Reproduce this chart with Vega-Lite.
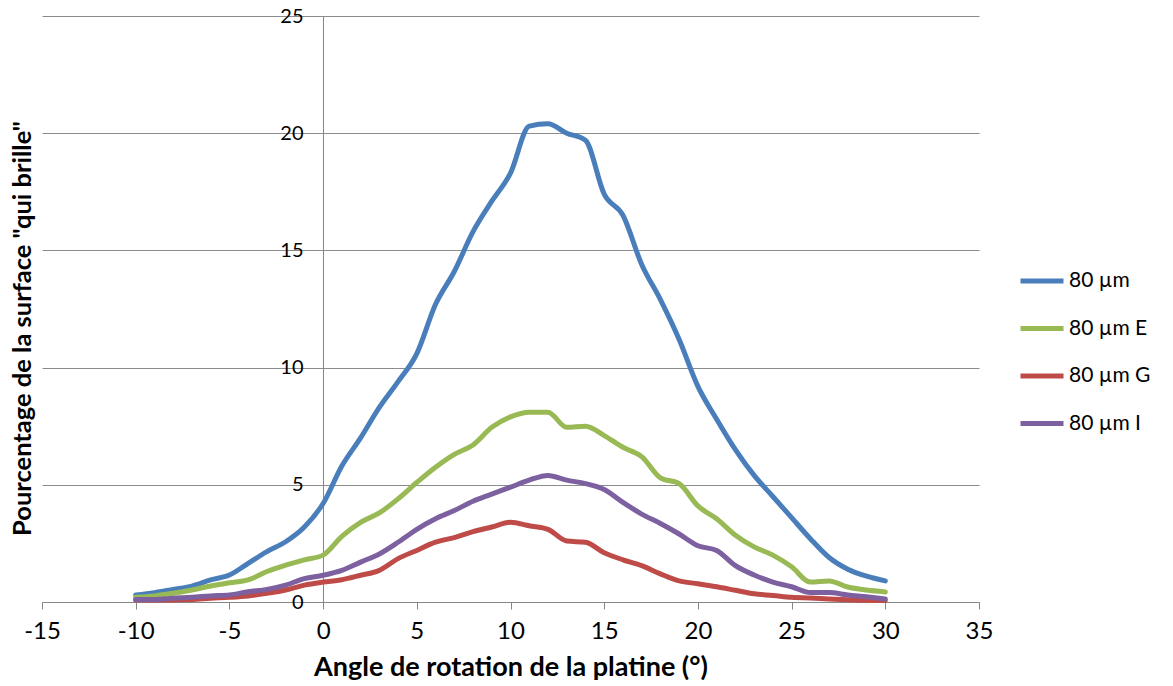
{
  "$schema": "https://vega.github.io/schema/vega-lite/v6.json",
  "width": 937,
  "height": 586,
  "autosize": {"type": "none"},
  "padding": {"left": 42, "top": 16, "right": 194, "bottom": 84},
  "background": "white",
  "config": {"view": {"stroke": null}},
  "data": {"values": [
    {"angle": -10, "value": 0.3, "series": "80 µm"},
    {"angle": -9, "value": 0.4, "series": "80 µm"},
    {"angle": -8, "value": 0.54, "series": "80 µm"},
    {"angle": -7, "value": 0.68, "series": "80 µm"},
    {"angle": -6, "value": 0.94, "series": "80 µm"},
    {"angle": -5, "value": 1.15, "series": "80 µm"},
    {"angle": -4, "value": 1.65, "series": "80 µm"},
    {"angle": -3, "value": 2.15, "series": "80 µm"},
    {"angle": -2, "value": 2.57, "series": "80 µm"},
    {"angle": -1, "value": 3.2, "series": "80 µm"},
    {"angle": 0, "value": 4.2, "series": "80 µm"},
    {"angle": 1, "value": 5.8, "series": "80 µm"},
    {"angle": 2, "value": 7.0, "series": "80 µm"},
    {"angle": 3, "value": 8.3, "series": "80 µm"},
    {"angle": 4, "value": 9.4, "series": "80 µm"},
    {"angle": 5, "value": 10.6, "series": "80 µm"},
    {"angle": 6, "value": 12.7, "series": "80 µm"},
    {"angle": 7, "value": 14.1, "series": "80 µm"},
    {"angle": 8, "value": 15.8, "series": "80 µm"},
    {"angle": 9, "value": 17.1, "series": "80 µm"},
    {"angle": 10, "value": 18.3, "series": "80 µm"},
    {"angle": 11, "value": 20.3, "series": "80 µm"},
    {"angle": 12, "value": 20.4, "series": "80 µm"},
    {"angle": 13, "value": 20.0, "series": "80 µm"},
    {"angle": 14, "value": 19.7, "series": "80 µm"},
    {"angle": 15, "value": 17.4, "series": "80 µm"},
    {"angle": 16, "value": 16.5, "series": "80 µm"},
    {"angle": 17, "value": 14.4, "series": "80 µm"},
    {"angle": 18, "value": 12.9, "series": "80 µm"},
    {"angle": 19, "value": 11.2, "series": "80 µm"},
    {"angle": 20, "value": 9.2, "series": "80 µm"},
    {"angle": 21, "value": 7.8, "series": "80 µm"},
    {"angle": 22, "value": 6.5, "series": "80 µm"},
    {"angle": 23, "value": 5.4, "series": "80 µm"},
    {"angle": 24, "value": 4.5, "series": "80 µm"},
    {"angle": 25, "value": 3.6, "series": "80 µm"},
    {"angle": 26, "value": 2.7, "series": "80 µm"},
    {"angle": 27, "value": 1.9, "series": "80 µm"},
    {"angle": 28, "value": 1.4, "series": "80 µm"},
    {"angle": 29, "value": 1.1, "series": "80 µm"},
    {"angle": 30, "value": 0.9, "series": "80 µm"},

    {"angle": -10, "value": 0.2, "series": "80 µm E"},
    {"angle": -9, "value": 0.26, "series": "80 µm E"},
    {"angle": -8, "value": 0.37, "series": "80 µm E"},
    {"angle": -7, "value": 0.51, "series": "80 µm E"},
    {"angle": -6, "value": 0.68, "series": "80 µm E"},
    {"angle": -5, "value": 0.82, "series": "80 µm E"},
    {"angle": -4, "value": 0.94, "series": "80 µm E"},
    {"angle": -3, "value": 1.3, "series": "80 µm E"},
    {"angle": -2, "value": 1.57, "series": "80 µm E"},
    {"angle": -1, "value": 1.8, "series": "80 µm E"},
    {"angle": 0, "value": 2.0, "series": "80 µm E"},
    {"angle": 1, "value": 2.8, "series": "80 µm E"},
    {"angle": 2, "value": 3.4, "series": "80 µm E"},
    {"angle": 3, "value": 3.8, "series": "80 µm E"},
    {"angle": 4, "value": 4.4, "series": "80 µm E"},
    {"angle": 5, "value": 5.1, "series": "80 µm E"},
    {"angle": 6, "value": 5.75, "series": "80 µm E"},
    {"angle": 7, "value": 6.3, "series": "80 µm E"},
    {"angle": 8, "value": 6.7, "series": "80 µm E"},
    {"angle": 9, "value": 7.45, "series": "80 µm E"},
    {"angle": 10, "value": 7.9, "series": "80 µm E"},
    {"angle": 11, "value": 8.1, "series": "80 µm E"},
    {"angle": 12, "value": 8.1, "series": "80 µm E"},
    {"angle": 13, "value": 7.45, "series": "80 µm E"},
    {"angle": 14, "value": 7.5, "series": "80 µm E"},
    {"angle": 15, "value": 7.1, "series": "80 µm E"},
    {"angle": 16, "value": 6.6, "series": "80 µm E"},
    {"angle": 17, "value": 6.2, "series": "80 µm E"},
    {"angle": 18, "value": 5.3, "series": "80 µm E"},
    {"angle": 19, "value": 5.05, "series": "80 µm E"},
    {"angle": 20, "value": 4.1, "series": "80 µm E"},
    {"angle": 21, "value": 3.55, "series": "80 µm E"},
    {"angle": 22, "value": 2.85, "series": "80 µm E"},
    {"angle": 23, "value": 2.35, "series": "80 µm E"},
    {"angle": 24, "value": 2.0, "series": "80 µm E"},
    {"angle": 25, "value": 1.5, "series": "80 µm E"},
    {"angle": 26, "value": 0.85, "series": "80 µm E"},
    {"angle": 27, "value": 0.9, "series": "80 µm E"},
    {"angle": 28, "value": 0.64, "series": "80 µm E"},
    {"angle": 29, "value": 0.51, "series": "80 µm E"},
    {"angle": 30, "value": 0.43, "series": "80 µm E"},

    {"angle": -10, "value": 0.09, "series": "80 µm G"},
    {"angle": -9, "value": 0.09, "series": "80 µm G"},
    {"angle": -8, "value": 0.09, "series": "80 µm G"},
    {"angle": -7, "value": 0.11, "series": "80 µm G"},
    {"angle": -6, "value": 0.16, "series": "80 µm G"},
    {"angle": -5, "value": 0.2, "series": "80 µm G"},
    {"angle": -4, "value": 0.26, "series": "80 µm G"},
    {"angle": -3, "value": 0.37, "series": "80 µm G"},
    {"angle": -2, "value": 0.51, "series": "80 µm G"},
    {"angle": -1, "value": 0.72, "series": "80 µm G"},
    {"angle": 0, "value": 0.85, "series": "80 µm G"},
    {"angle": 1, "value": 0.95, "series": "80 µm G"},
    {"angle": 2, "value": 1.14, "series": "80 µm G"},
    {"angle": 3, "value": 1.35, "series": "80 µm G"},
    {"angle": 4, "value": 1.85, "series": "80 µm G"},
    {"angle": 5, "value": 2.2, "series": "80 µm G"},
    {"angle": 6, "value": 2.55, "series": "80 µm G"},
    {"angle": 7, "value": 2.75, "series": "80 µm G"},
    {"angle": 8, "value": 3.0, "series": "80 µm G"},
    {"angle": 9, "value": 3.2, "series": "80 µm G"},
    {"angle": 10, "value": 3.4, "series": "80 µm G"},
    {"angle": 11, "value": 3.25, "series": "80 µm G"},
    {"angle": 12, "value": 3.1, "series": "80 µm G"},
    {"angle": 13, "value": 2.6, "series": "80 µm G"},
    {"angle": 14, "value": 2.55, "series": "80 µm G"},
    {"angle": 15, "value": 2.1, "series": "80 µm G"},
    {"angle": 16, "value": 1.8, "series": "80 µm G"},
    {"angle": 17, "value": 1.55, "series": "80 µm G"},
    {"angle": 18, "value": 1.2, "series": "80 µm G"},
    {"angle": 19, "value": 0.9, "series": "80 µm G"},
    {"angle": 20, "value": 0.78, "series": "80 µm G"},
    {"angle": 21, "value": 0.65, "series": "80 µm G"},
    {"angle": 22, "value": 0.5, "series": "80 µm G"},
    {"angle": 23, "value": 0.35, "series": "80 µm G"},
    {"angle": 24, "value": 0.28, "series": "80 µm G"},
    {"angle": 25, "value": 0.2, "series": "80 µm G"},
    {"angle": 26, "value": 0.17, "series": "80 µm G"},
    {"angle": 27, "value": 0.13, "series": "80 µm G"},
    {"angle": 28, "value": 0.1, "series": "80 µm G"},
    {"angle": 29, "value": 0.07, "series": "80 µm G"},
    {"angle": 30, "value": 0.06, "series": "80 µm G"},

    {"angle": -10, "value": 0.11, "series": "80 µm I"},
    {"angle": -9, "value": 0.11, "series": "80 µm I"},
    {"angle": -8, "value": 0.16, "series": "80 µm I"},
    {"angle": -7, "value": 0.2, "series": "80 µm I"},
    {"angle": -6, "value": 0.26, "series": "80 µm I"},
    {"angle": -5, "value": 0.3, "series": "80 µm I"},
    {"angle": -4, "value": 0.44, "series": "80 µm I"},
    {"angle": -3, "value": 0.54, "series": "80 µm I"},
    {"angle": -2, "value": 0.72, "series": "80 µm I"},
    {"angle": -1, "value": 1.0, "series": "80 µm I"},
    {"angle": 0, "value": 1.14, "series": "80 µm I"},
    {"angle": 1, "value": 1.35, "series": "80 µm I"},
    {"angle": 2, "value": 1.7, "series": "80 µm I"},
    {"angle": 3, "value": 2.05, "series": "80 µm I"},
    {"angle": 4, "value": 2.55, "series": "80 µm I"},
    {"angle": 5, "value": 3.1, "series": "80 µm I"},
    {"angle": 6, "value": 3.55, "series": "80 µm I"},
    {"angle": 7, "value": 3.9, "series": "80 µm I"},
    {"angle": 8, "value": 4.3, "series": "80 µm I"},
    {"angle": 9, "value": 4.6, "series": "80 µm I"},
    {"angle": 10, "value": 4.9, "series": "80 µm I"},
    {"angle": 11, "value": 5.2, "series": "80 µm I"},
    {"angle": 12, "value": 5.4, "series": "80 µm I"},
    {"angle": 13, "value": 5.2, "series": "80 µm I"},
    {"angle": 14, "value": 5.05, "series": "80 µm I"},
    {"angle": 15, "value": 4.8, "series": "80 µm I"},
    {"angle": 16, "value": 4.25, "series": "80 µm I"},
    {"angle": 17, "value": 3.75, "series": "80 µm I"},
    {"angle": 18, "value": 3.35, "series": "80 µm I"},
    {"angle": 19, "value": 2.9, "series": "80 µm I"},
    {"angle": 20, "value": 2.4, "series": "80 µm I"},
    {"angle": 21, "value": 2.2, "series": "80 µm I"},
    {"angle": 22, "value": 1.55, "series": "80 µm I"},
    {"angle": 23, "value": 1.15, "series": "80 µm I"},
    {"angle": 24, "value": 0.85, "series": "80 µm I"},
    {"angle": 25, "value": 0.65, "series": "80 µm I"},
    {"angle": 26, "value": 0.4, "series": "80 µm I"},
    {"angle": 27, "value": 0.4, "series": "80 µm I"},
    {"angle": 28, "value": 0.3, "series": "80 µm I"},
    {"angle": 29, "value": 0.22, "series": "80 µm I"},
    {"angle": 30, "value": 0.13, "series": "80 µm I"}
  ]},
  "mark": {"type": "line", "strokeWidth": 5, "interpolate": "monotone", "strokeCap": "round", "strokeJoin": "round"},
  "encoding": {
    "x": {
      "field": "angle", "type": "quantitative",
      "scale": {"domain": [-15, 35], "nice": false, "zero": false},
      "axis": {
        "title": "Angle de rotation de la platine (°)",
        "values": [-15, -10, -5, 0, 5, 10, 15, 20, 25, 30, 35],
        "labelExpr": "'' + datum.value",
        "grid": false,
        "domainColor": "#868686", "domainWidth": 1,
        "tickColor": "#868686", "tickSize": 7, "tickWidth": 1,
        "labelFont": "Lato", "labelFontSize": 24, "labelColor": "#000000", "labelPadding": 10,
        "labelFlush": false,
        "titleFont": "Lato", "titleFontSize": 27, "titleFontWeight": "bold", "titleColor": "#000000", "titlePadding": 11
      }
    },
    "y": {
      "field": "value", "type": "quantitative",
      "scale": {"domain": [0, 25], "nice": false},
      "axis": {
        "title": "Pourcentage de la surface \"qui brille\"",
        "values": [0, 5, 10, 15, 20, 25],
        "offset": -281,
        "grid": true, "gridColor": "#8c8c8c", "gridWidth": 1,
        "domainColor": "#868686", "domainWidth": 1,
        "ticks": false,
        "labelFont": "Lato", "labelFontSize": 20, "labelColor": "#000000", "labelPadding": 20,
        "labelFlush": false,
        "titleFont": "Lato", "titleFontSize": 25.5, "titleFontWeight": "bold", "titleColor": "#000000",
        "titleX": -301, "titleY": 312, "titleAngle": 270, "titleAlign": "center", "titleBaseline": "middle"
      }
    },
    "color": {
      "field": "series", "type": "nominal",
      "scale": {"domain": ["80 µm", "80 µm E", "80 µm G", "80 µm I"], "range": ["#4A7EBB", "#98B954", "#BE4B48", "#7D60A0"]},
      "legend": {
        "title": null, "orient": "none", "legendX": 976, "legendY": 241,
        "symbolType": "stroke", "symbolSize": 1849, "symbolStrokeWidth": 5,
        "labelFont": "Lato", "labelFontSize": 21, "labelColor": "#000000", "labelOffset": 3,
        "rowPadding": 13.5, "padding": 0
      }
    }
  }
}
